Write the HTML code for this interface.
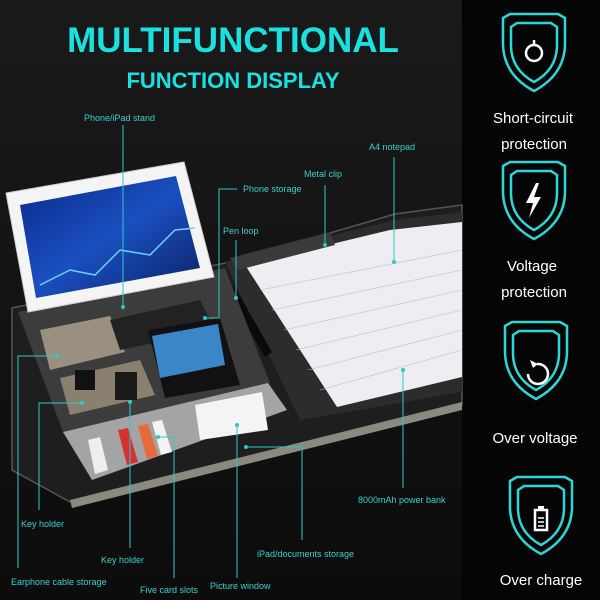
<!DOCTYPE html>
<html><head><meta charset="utf-8"><style>
html,body{margin:0;padding:0;background:#121212;}
svg{display:block}
.l{font-family:"Liberation Sans",sans-serif;font-size:9px;fill:#3ad0d0}
.w{font-family:"Liberation Sans",sans-serif;font-size:15px;fill:#fff;text-anchor:middle}
</style></head><body>
<svg width="600" height="600" viewBox="0 0 600 600" xmlns="http://www.w3.org/2000/svg">
<defs>
<linearGradient id="bg" x1="0" y1="0" x2="0" y2="1"><stop offset="0" stop-color="#1a1a1a"/><stop offset="1" stop-color="#0c0c0c"/></linearGradient>
<linearGradient id="scr" x1="0" y1="0" x2="1" y2="1"><stop offset="0" stop-color="#0a2a8a"/><stop offset="0.5" stop-color="#1a4fc0"/><stop offset="1" stop-color="#0b1f60"/></linearGradient>
</defs>
<rect width="462" height="600" fill="url(#bg)"/>
<rect x="462" width="138" height="600" fill="#050505"/>
<!-- title -->
<text x="233" y="52" text-anchor="middle" font-family="Liberation Sans,sans-serif" font-weight="bold" font-size="35" fill="#1be0e0">MULTIFUNCTIONAL</text>
<text x="233" y="88" text-anchor="middle" font-family="Liberation Sans,sans-serif" font-weight="bold" font-size="22" fill="#1be0e0">FUNCTION DISPLAY</text>
<!-- folio body -->
<polygon points="12,308 230,262 395,214 462,205 462,405 70,502 12,470" fill="#1e1e1e" stroke="#555" stroke-width="1.5"/>
<polygon points="70,500 462,402 462,410 72,508" fill="#8a8a80"/>
<!-- right inner -->
<polygon points="225,262 395,220 462,212 462,392 300,420" fill="#2c2c2c"/>
<!-- notepad -->
<polygon points="245,265 390,230 462,222 462,377 337,407" fill="#eeeef2"/>
<g stroke="#b8bccc" stroke-width="0.6">
<line x1="260" y1="290" x2="462" y2="250"/><line x1="272" y1="310" x2="462" y2="270"/><line x1="284" y1="330" x2="462" y2="290"/><line x1="296" y1="350" x2="462" y2="310"/><line x1="308" y1="370" x2="462" y2="330"/><line x1="320" y1="390" x2="462" y2="350"/>
</g>
<polygon points="230,258 330,232 335,245 238,270" fill="#3a3a3a"/>
<!-- pen -->
<polygon points="226,290 234,286 272,352 265,357" fill="#0a0a0a"/>
<!-- left organizer -->
<polygon points="18,312 225,268 270,383 63,432" fill="#3c3c3c"/>
<polygon points="40,330 110,316 125,352 50,370" fill="#9a9080"/>
<polygon points="60,378 140,360 155,395 70,415" fill="#8a8070"/>
<polygon points="110,320 200,300 215,330 120,350" fill="#222"/>
<!-- phone -->
<polygon points="148,330 220,318 240,385 165,398" fill="#111"/>
<polygon points="152,336 218,324 225,365 160,378" fill="#3a86c8"/>
<rect x="75" y="370" width="20" height="20" fill="#111"/><rect x="115" y="372" width="22" height="28" fill="#1a1a1a"/>
<!-- card panel -->
<polygon points="63,432 268,383 287,410 92,480" fill="#a4a4a4"/>
<polygon points="88,440 100,437 108,470 95,474" fill="#eee"/>
<polygon points="118,430 128,428 138,462 127,465" fill="#d43030"/>
<polygon points="138,426 148,424 158,456 147,459" fill="#e86a3a"/>
<polygon points="152,422 162,420 172,452 161,455" fill="#f3f3f3"/>
<polygon points="195,405 262,392 268,430 200,440" fill="#f4f4f4"/>
<!-- tablet -->
<polygon points="6,193 184,162 214,277 28,312" fill="#f4f4f4" stroke="#ccc"/>
<polygon points="20,205 176,176 200,268 36,298" fill="url(#scr)"/>
<polyline points="40,285 70,270 95,275 120,250 150,255 175,230 195,228" fill="none" stroke="#6fd0ff" stroke-width="1.5"/>
<!-- labels and lines -->
<g stroke="#2ec8c8" stroke-width="1" fill="none">
<polyline points="123,125 123,307"/>
<polyline points="394,157 394,262"/>
<polyline points="325,185 325,245"/>
<polyline points="237,189 219,189 219,318 205,318"/>
<polyline points="236,240 236,298"/>
<polyline points="403,370 403,488"/>
<polyline points="246,447 302,447 302,540"/>
<polyline points="237,425 237,578"/>
<polyline points="158,437 174,437 174,578"/>
<polyline points="130,402 130,548"/>
<polyline points="82,403 39,403 39,510"/>
<polyline points="57,356 18,356 18,568"/>
</g>
<g fill="#2ec8c8">
<circle cx="123" cy="307" r="2"/><circle cx="394" cy="262" r="2"/><circle cx="325" cy="245" r="2"/><circle cx="205" cy="318" r="2"/><circle cx="236" cy="298" r="2"/><circle cx="403" cy="370" r="2"/><circle cx="246" cy="447" r="2"/><circle cx="237" cy="425" r="2"/><circle cx="158" cy="437" r="2"/><circle cx="130" cy="402" r="2"/><circle cx="82" cy="403" r="2"/><circle cx="57" cy="356" r="2"/>
</g>
<text class="l" x="84" y="121">Phone/iPad stand</text>
<text class="l" x="369" y="150">A4 notepad</text>
<text class="l" x="304" y="177">Metal clip</text>
<text class="l" x="243" y="192">Phone storage</text>
<text class="l" x="223" y="234">Pen loop</text>
<text class="l" x="358" y="503">8000mAh power bank</text>
<text class="l" x="257" y="557">iPad/documents storage</text>
<text class="l" x="210" y="589">Picture window</text>
<text class="l" x="140" y="593">Five card slots</text>
<text class="l" x="101" y="563">Key holder</text>
<text class="l" x="21" y="527">Key holder</text>
<text class="l" x="11" y="585">Earphone cable storage</text>
<!-- shields -->
<g fill="none" stroke="#2fd6d6" stroke-width="2.5">
<g transform="translate(534,15)"><path d="M-31,3 L-24,-1 L24,-1 L31,3 L31,30 Q30,60 0,76 Q-30,60 -31,30 Z"/><path d="M-23,12 L-17,8 L17,8 L23,12 L23,32 Q22,55 0,67 Q-22,55 -23,32 Z"/></g>
<g transform="translate(534,163)"><path d="M-31,3 L-24,-1 L24,-1 L31,3 L31,30 Q30,60 0,76 Q-30,60 -31,30 Z"/><path d="M-23,12 L-17,8 L17,8 L23,12 L23,32 Q22,55 0,67 Q-22,55 -23,32 Z"/></g>
<g transform="translate(536,323)"><path d="M-31,3 L-24,-1 L24,-1 L31,3 L31,30 Q30,60 0,76 Q-30,60 -31,30 Z"/><path d="M-23,12 L-17,8 L17,8 L23,12 L23,32 Q22,55 0,67 Q-22,55 -23,32 Z"/></g>
<g transform="translate(541,478)"><path d="M-31,3 L-24,-1 L24,-1 L31,3 L31,30 Q30,60 0,76 Q-30,60 -31,30 Z"/><path d="M-23,12 L-17,8 L17,8 L23,12 L23,32 Q22,55 0,67 Q-22,55 -23,32 Z"/></g>
</g>
<g fill="none" stroke="#fff" stroke-width="2.5">
<circle cx="534" cy="53" r="8"/><line x1="534" y1="40" x2="534" y2="46"/>
<path d="M528,374 A10,10 0 1 0 537,364"/>
<rect x="535" y="510" width="12" height="20"/>
</g>
<polygon points="536,183 526,203 533,203 529,218 541,197 534,197 539,183" fill="#fff"/>
<polygon points="538,364 530,360 533,368" fill="#fff"/>
<rect x="538" y="506" width="6" height="4" fill="#fff"/>
<g stroke="#fff" stroke-width="1.5"><line x1="538" y1="518" x2="544" y2="518"/><line x1="538" y1="522" x2="544" y2="522"/><line x1="538" y1="526" x2="544" y2="526"/></g>
<text class="w" x="533" y="123">Short-circuit</text>
<text class="w" x="534" y="149">protection</text>
<text class="w" x="532" y="271">Voltage</text>
<text class="w" x="534" y="297">protection</text>
<text class="w" x="535" y="443">Over voltage</text>
<text class="w" x="541" y="585">Over charge</text>
</svg>
</body></html>
